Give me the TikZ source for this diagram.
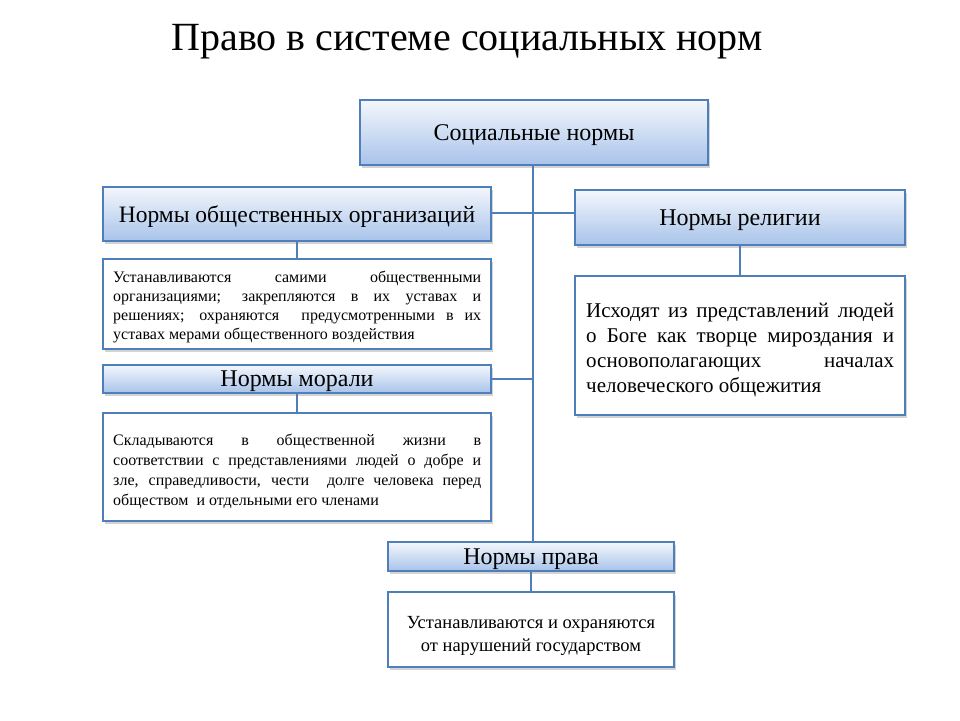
\documentclass[tikz,border=0pt]{standalone}
\usepackage{fontspec}
\setmainfont{Liberation Serif}
\usetikzlibrary{shadows}
\definecolor{bord}{HTML}{4F7FBA}
\definecolor{topc}{HTML}{F4F7FC}
\definecolor{botc}{HTML}{A8C3EA}
\tikzset{
  head/.style={draw=bord, line width=2.5pt, top color=topc, bottom color=botc, inner sep=0pt, align=center,
    text depth=0pt, drop shadow={opacity=0.35, shadow xshift=2pt, shadow yshift=-2.5pt}},
  desc/.style={draw=bord, line width=2.5pt, fill=white, inner sep=0pt,
    drop shadow={opacity=0.35, shadow xshift=2pt, shadow yshift=-2.5pt}},
  conn/.style={draw=bord, line width=2.5pt},
  body/.style={align=justify, anchor=north west, inner sep=0pt}
}
\begin{document}
\begin{tikzpicture}[x=1pt,y=-1pt]
\useasboundingbox (0,0) rectangle (960,720);
\node[font=\fontsize{40}{44}\selectfont] (title) at (467,42) {Право в системе социальных норм};

\node[head, minimum width=348pt, minimum height=65pt, font=\fontsize{24}{28}\selectfont] (soc) at (534,132.5) {Социальные нормы};
\node[head, minimum width=388pt, minimum height=54pt, font=\fontsize{23.5}{28}\selectfont] (org) at (297,214) {Нормы общественных организаций};
\node[head, minimum width=330pt, minimum height=55pt, font=\fontsize{24}{28}\selectfont] (rel) at (740,217.5) {Нормы религии};
\node[head, minimum width=388pt, minimum height=28pt, font=\fontsize{24}{28}\selectfont] (mor) at (297,379) {Нормы морали};
\node[head, minimum width=286pt, minimum height=29pt, font=\fontsize{24}{28}\selectfont] (prav) at (531,556.5) {Нормы права};

\node[desc, minimum width=388pt, minimum height=90pt] (orgd) at (297,304) {};
\node[body, text width=368pt, font=\fontsize{16}{19}\selectfont] (orgt) at (113,271)
 {Устанавливаются самими общественными\linebreak организациями; закрепляются в~их уставах и\linebreak решениях; охраняются \ предусмотренными в~их уставах мерами общественного воздействия};

\node[desc, minimum width=388pt, minimum height=108pt] (mord) at (297,467) {};
\node[body, text width=368pt, font=\fontsize{16}{20}\selectfont] (mort) at (113,434)
 {Складываются в общественной жизни в\linebreak соответствии с представлениями людей о добре и\linebreak зле, справедливости, чести \ долге человека перед обществом \ и отдельными его членами};

\node[desc, minimum width=330pt, minimum height=139pt] (reld) at (740,345.5) {};
\node[body, text width=308pt, font=\fontsize{21}{25}\selectfont] (relt) at (586,303)
 {Исходят из представлений людей\linebreak о Боге как творце мироздания и\linebreak основополагающих началах\linebreak человеческого общежития};

\node[desc, minimum width=286pt, minimum height=75pt] (pravd) at (531,629.5) {};
\node[align=center, inner sep=0pt, font=\fontsize{18.5}{23}\selectfont] (pravt) at (531,636)
 {Устанавливаются и охраняются\\от нарушений государством};

\coordinate (j1) at (533,213);
\coordinate (j2) at (533,379);
\draw[conn] (soc.south -| j1) -- (j1 |- prav.north);
\draw[conn] (org.east |- j1) -- (rel.west |- j1);
\draw[conn] (mor.east) -- (j2);
\draw[conn] (org.south) -- (orgd.north);
\draw[conn] (mor.south) -- (mord.north);
\draw[conn] (rel.south) -- (reld.north);
\draw[conn] (prav.south) -- (pravd.north);
\end{tikzpicture}
\end{document}
